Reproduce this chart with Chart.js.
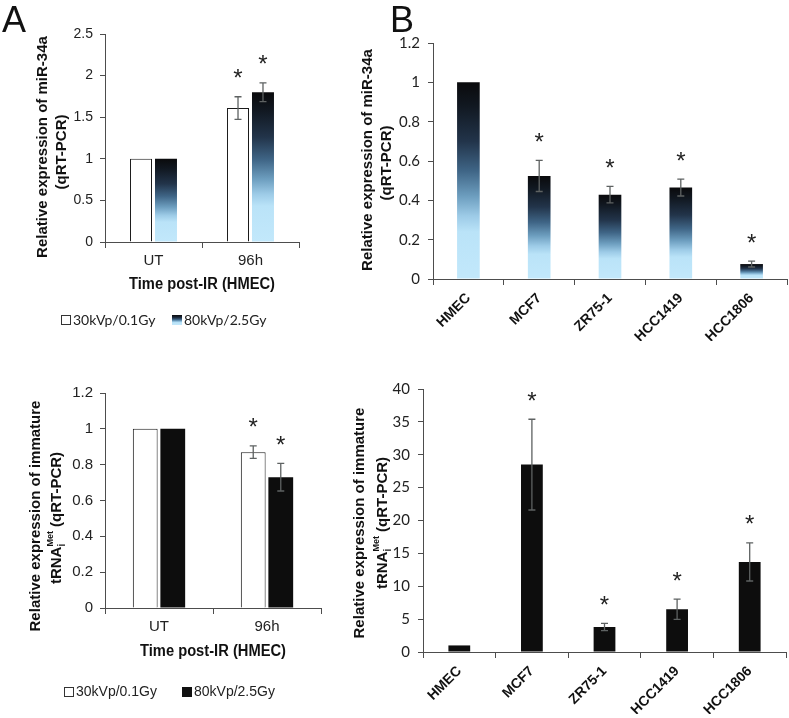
<!DOCTYPE html>
<html>
<head>
<meta charset="utf-8">
<script src="https://cdn.jsdelivr.net/npm/chart.js@4.4.1/dist/chart.umd.min.js"></script>
<style>
  body { margin: 0; background: #fff; width: 789px; height: 718px; position: relative; overflow: hidden; }
  canvas { position: absolute; }
</style>
</head>
<body>
<canvas id="chartA1"></canvas>
<canvas id="chartB1"></canvas>
<canvas id="chartA2"></canvas>
<canvas id="chartB2"></canvas>
<script>
// ---- data ----
const timePoints = ['UT', '96h'];
const doseLabels = ['30kVp/0.1Gy', '80kVp/2.5Gy'];
const mirLow = [1.0, 1.61];
const mirLowErr = [0, 0.136];
const mirHigh = [1.0, 1.80];
const mirHighErr = [0, 0.113];
const trnaLow = [1.0, 0.87];
const trnaLowErr = [0, 0.035];
const trnaHigh = [1.0, 0.73];
const trnaHighErr = [0, 0.077];
const starsTime = [false, true];

const cellLines = ['HMEC', 'MCF7', 'ZR75-1', 'HCC1419', 'HCC1806'];
const mirCells = [1.0, 0.524, 0.429, 0.465, 0.076];
const mirCellsErr = [0, 0.079, 0.042, 0.043, 0.015];
const trnaCells = [1.0, 28.5, 3.8, 6.5, 13.7];
const trnaCellsErr = [0, 6.9, 0.55, 1.55, 2.9];
const starsCells = [false, true, true, true, true];

const ticksMirTime = [0, 0.5, 1, 1.5, 2, 2.5];
const ticksTrnaTime = [0, 0.2, 0.4, 0.6, 0.8, 1, 1.2];
const ticksMirCells = [0, 0.2, 0.4, 0.6, 0.8, 1, 1.2];
const ticksTrnaCells = [0, 5, 10, 15, 20, 25, 30, 35, 40];

Chart.defaults.font.family = '"Liberation Sans", Arial, sans-serif';

const AXIS = '#4d4d4d';
const Y_W = 40;   // fixed width of y scale box

// black -> light blue fade, per bar
function fadeStops(g) {
    g.addColorStop(0, '#0a0a0c');
    g.addColorStop(0.12, '#111821');
    g.addColorStop(0.3, '#22344a');
    g.addColorStop(0.45, '#3f6586');
    g.addColorStop(0.58, '#6d9ebf');
    g.addColorStop(0.68, '#9dcbe7');
    g.addColorStop(0.76, '#bae3f8');
    g.addColorStop(1, '#c2e8fb');
    return g;
}

function blueFade(context) {
    const chart = context.chart;
    const yScale = chart.scales.y;
    if (context.type !== 'data' || !yScale) return '#22344a';
    const top = yScale.getPixelForValue(context.raw);
    const base = yScale.getPixelForValue(0);
    if (!isFinite(top) || !isFinite(base) || top >= base) return '#22344a';
    return fadeStops(chart.ctx.createLinearGradient(0, top, 0, base));
}

// error bars + significance stars
const errorBars = {
    id: 'errorBars',
    afterDatasetsDraw(chart) {
        const ctx = chart.ctx;
        const y = chart.scales.y;
        chart.data.datasets.forEach((ds, di) => {
            const meta = chart.getDatasetMeta(di);
            meta.data.forEach((bar, i) => {
                const v = ds.data[i];
                const e = ds.errors ? ds.errors[i] : 0;
                const top = y.getPixelForValue(v + e);
                const bot = y.getPixelForValue(v - e);
                ctx.save();
                if (e > 0) {
                    ctx.strokeStyle = '#5e6262';
                    ctx.lineWidth = 1.3;
                    ctx.beginPath();
                    ctx.moveTo(bar.x, top); ctx.lineTo(bar.x, bot);
                    ctx.moveTo(bar.x - 3.5, top); ctx.lineTo(bar.x + 3.5, top);
                    ctx.moveTo(bar.x - 3.5, bot); ctx.lineTo(bar.x + 3.5, bot);
                    ctx.stroke();
                }
                if (ds.stars && ds.stars[i]) {
                    ctx.fillStyle = '#222';
                    ctx.font = '24px "Liberation Sans"';
                    ctx.textAlign = 'center';
                    ctx.textBaseline = 'alphabetic';
                    const m = ctx.measureText('*');
                    const cy = top - 23;
                    ctx.fillText('*', bar.x, cy + (m.actualBoundingBoxAscent - m.actualBoundingBoxDescent) / 2);
                }
                ctx.restore();
            });
        });
    }
};

function drawVertical(ctx, cx, cy, parts) {
    ctx.save();
    ctx.translate(cx, cy);
    ctx.rotate(-Math.PI / 2);
    let total = 0;
    parts.forEach(p => {
        ctx.font = `bold ${p.size}px "Liberation Sans"`;
        p.w = ctx.measureText(p.text).width;
        if (p.advance !== false) total += p.w;
    });
    let x = -total / 2;
    ctx.textBaseline = 'middle';
    ctx.textAlign = 'left';
    ctx.fillStyle = '#111';
    parts.forEach(p => {
        ctx.font = `bold ${p.size}px "Liberation Sans"`;
        ctx.fillText(p.text, x, p.dy || 0);
        if (p.advance !== false) x += p.w;
    });
    ctx.restore();
}

// letters, axis titles and legends, in page coordinates
function decorations(frame, d) {
    return {
        id: 'decor',
        afterDraw(chart) {
            const ctx = chart.ctx;
            const ox = frame.x, oy = frame.y;
            ctx.save();
            ctx.fillStyle = '#111';
            if (d.letter) {
                ctx.font = '36px "Liberation Sans"';
                ctx.textAlign = 'left';
                ctx.textBaseline = 'alphabetic';
                ctx.fillText(d.letter[0], d.letter[1] - ox, d.letter[2] - oy);
            }
            d.yTitle.forEach(l => drawVertical(ctx, l.x - ox, l.y - oy, l.parts));
            if (d.xTitle) {
                ctx.font = 'bold 16px "Liberation Sans"';
                ctx.textAlign = 'center';
                ctx.textBaseline = 'middle';
                ctx.fillStyle = '#111';
                ctx.fillText(d.xTitle.text, d.xTitle.x - ox, d.xTitle.y - oy, d.xTitle.w);
            }
            if (d.legend) {
                d.legend.items.forEach(it => {
                    const bx = it.x - ox, by = d.legend.y - oy - 5;
                    if (it.fill === 'fade') {
                        ctx.fillStyle = fadeStops(ctx.createLinearGradient(0, by, 0, by + 10));
                    } else {
                        ctx.fillStyle = it.fill;
                    }
                    ctx.fillRect(bx, by, 10, 10);
                    if (it.stroke) {
                        ctx.strokeStyle = it.stroke;
                        ctx.lineWidth = 1;
                        ctx.strokeRect(bx + 0.5, by + 0.5, 9, 9);
                    }
                    ctx.fillStyle = '#222';
                    ctx.font = d.legend.font;
                    ctx.textAlign = 'left';
                    ctx.textBaseline = 'middle';
                    ctx.fillText(it.text, bx + 12, d.legend.y - oy);
                });
            }
            ctx.restore();
        }
    };
}

function buildChart(id, frame, cfg) {
    const c = document.getElementById(id);
    c.width = frame.w;
    c.height = frame.h;
    c.style.left = frame.x + 'px';
    c.style.top = frame.y + 'px';
    const a = frame.area;
    const xH = cfg.xHeight;
    return new Chart(c, {
        type: 'bar',
        data: { labels: cfg.labels, datasets: cfg.datasets },
        options: {
            responsive: false,
            animation: false,
            layout: {
                padding: {
                    left: a.l - frame.x - Y_W,
                    top: a.t - frame.y,
                    right: frame.x + frame.w - a.r,
                    bottom: frame.y + frame.h - a.b - xH
                }
            },
            plugins: { legend: { display: false }, tooltip: { enabled: false } },
            scales: {
                x: {
                    grid: { drawOnChartArea: false, offset: true, tickLength: 6, color: AXIS },
                    border: { color: AXIS, width: 1 },
                    ticks: cfg.xTicks,
                    afterFit: s => { s.height = xH; }
                },
                y: {
                    min: 0,
                    max: cfg.yTicks[cfg.yTicks.length - 1],
                    afterBuildTicks: s => { s.ticks = cfg.yTicks.map(v => ({ value: v })); },
                    grid: { drawOnChartArea: false, tickLength: 5, color: AXIS },
                    border: { color: AXIS, width: 1 },
                    ticks: {
                        font: cfg.yFont,
                        color: '#222',
                        padding: cfg.yPad,
                        callback: v => String(Math.round(v * 100) / 100)
                    },
                    afterFit: s => { s.width = Y_W; }
                }
            }
        },
        plugins: [errorBars, decorations(frame, cfg.decor)]
    });
}

const timeTicks = { font: { size: 15 }, color: '#222', padding: 4, maxRotation: 0, autoSkip: false };
const cellTicks = { font: { size: 14, weight: 'bold' }, color: '#111', padding: 5, minRotation: 45, maxRotation: 45, autoSkip: false };

// A, top: miR-34a after IR
const frameA1 = { x: 0, y: 0, w: 335, h: 345, area: { l: 105, t: 34, r: 299, b: 242 } };
buildChart('chartA1', frameA1, {
    labels: timePoints,
    datasets: [
        { label: doseLabels[0], data: mirLow, errors: mirLowErr, stars: starsTime,
          backgroundColor: '#fff', borderColor: '#1a1a1a', borderWidth: 1,
          categoryPercentage: 0.515, barPercentage: 0.88 },
        { label: doseLabels[1], data: mirHigh, errors: mirHighErr, stars: starsTime,
          backgroundColor: blueFade, borderWidth: 0,
          categoryPercentage: 0.515, barPercentage: 0.88 }
    ],
    xTicks: timeTicks,
    xHeight: 40,
    yTicks: ticksMirTime,
    yFont: { size: 14 },
    yPad: 7,
    decor: {
        letter: ['A', 2, 32],
        yTitle: [
            { x: 43, y: 147, parts: [{ text: 'Relative expression of miR-34a', size: 15 }] },
            { x: 62, y: 152, parts: [{ text: '(qRT-PCR)', size: 15 }] }
        ],
        xTitle: { text: 'Time post-IR (HMEC)', x: 202, y: 285, w: 146 },
        legend: {
            y: 320, font: '14px Lato',
            items: [
                { x: 61, text: doseLabels[0], fill: '#fff', stroke: '#333' },
                { x: 172, text: doseLabels[1], fill: 'fade' }
            ]
        }
    }
});

// B, top: miR-34a across cell lines
const frameB1 = { x: 345, y: 0, w: 444, h: 345, area: { l: 433, t: 43, r: 787, b: 279 } };
buildChart('chartB1', frameB1, {
    labels: cellLines,
    datasets: [
        { label: 'miR-34a', data: mirCells, errors: mirCellsErr, stars: starsCells,
          backgroundColor: blueFade, borderWidth: 0,
          categoryPercentage: 1, barPercentage: 0.32 }
    ],
    xTicks: cellTicks,
    xHeight: 62,
    yTicks: ticksMirCells,
    yFont: { family: 'Lato', size: 15 },
    yPad: 8,
    decor: {
        letter: ['B', 390, 32],
        yTitle: [
            { x: 368, y: 160, parts: [{ text: 'Relative expression of miR-34a', size: 15 }] },
            { x: 387, y: 163, parts: [{ text: '(qRT-PCR)', size: 15 }] }
        ]
    }
});

const trnaLine = [
    { text: 'tRNA', size: 15 },
    { text: 'i', size: 10, dy: 5, advance: false },
    { text: 'Met', size: 9, dy: -6 },
    { text: ' (qRT-PCR)', size: 15 }
];

// A, bottom: immature tRNAiMet after IR
const frameA2 = { x: 0, y: 345, w: 335, h: 373, area: { l: 105, t: 393, r: 321, b: 608 } };
buildChart('chartA2', frameA2, {
    labels: timePoints,
    datasets: [
        { label: doseLabels[0], data: trnaLow, errors: trnaLowErr, stars: starsTime,
          backgroundColor: '#fff', borderColor: '#1a1a1a', borderWidth: 1,
          categoryPercentage: 0.51, barPercentage: 0.9 },
        { label: doseLabels[1], data: trnaHigh, errors: trnaHighErr, stars: starsTime,
          backgroundColor: '#0d0d0d', borderWidth: 0,
          categoryPercentage: 0.51, barPercentage: 0.9 }
    ],
    xTicks: timeTicks,
    xHeight: 40,
    yTicks: ticksTrnaTime,
    yFont: { size: 15 },
    yPad: 7,
    decor: {
        yTitle: [
            { x: 36, y: 516, parts: [{ text: 'Relative expression of immature', size: 15 }] },
            { x: 57, y: 518, parts: trnaLine.map(p => Object.assign({}, p)) }
        ],
        xTitle: { text: 'Time post-IR (HMEC)', x: 213, y: 652, w: 146 },
        legend: {
            y: 692, font: '14px "Liberation Sans"',
            items: [
                { x: 64, text: doseLabels[0], fill: '#fff', stroke: '#333' },
                { x: 182, text: doseLabels[1], fill: '#111' }
            ]
        }
    }
});

// B, bottom: immature tRNAiMet across cell lines
const frameB2 = { x: 335, y: 345, w: 454, h: 373, area: { l: 423, t: 389, r: 786, b: 652 } };
buildChart('chartB2', frameB2, {
    labels: cellLines,
    datasets: [
        { label: 'tRNAiMet', data: trnaCells, errors: trnaCellsErr, stars: starsCells,
          backgroundColor: '#0d0d0d', borderWidth: 0,
          categoryPercentage: 1, barPercentage: 0.3 }
    ],
    xTicks: cellTicks,
    xHeight: 62,
    yTicks: ticksTrnaCells,
    yFont: { family: 'Lato', size: 15 },
    yPad: 8,
    decor: {
        yTitle: [
            { x: 360, y: 523, parts: [{ text: 'Relative expression of immature', size: 15 }] },
            { x: 383, y: 523, parts: trnaLine.map(p => Object.assign({}, p)) }
        ]
    }
});
</script>
</body>
</html>
